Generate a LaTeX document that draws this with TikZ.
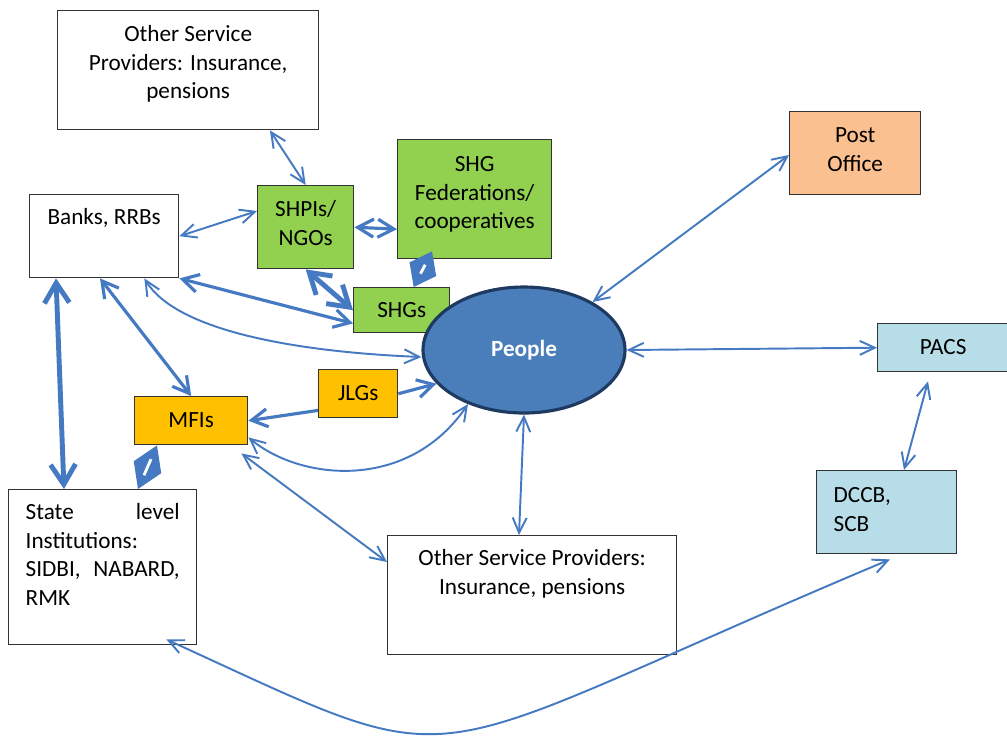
\documentclass[tikz,border=0pt]{standalone}
\usepackage{fontspec}
\setmainfont{Carlito}
\usetikzlibrary{arrows.meta,shapes.geometric,calc}
\definecolor{LinkBlue}{HTML}{4579C2}
\definecolor{GroupGreen}{HTML}{92D050}
\definecolor{PostOrange}{HTML}{FAC08F}
\definecolor{LenderYellow}{HTML}{FFC000}
\definecolor{CoopBlue}{HTML}{B7DEE8}
\definecolor{PeopleBlue}{HTML}{4A7EBB}
\definecolor{PeopleEdge}{HTML}{1F3A60}
\newcommand{\bondlink}[2]{%
  \fill[LinkBlue] (#1) -- ($(#1)!0.5!(#2)!0.3cm!90:(#2)$) -- (#2) -- ($(#1)!0.5!(#2)!0.3cm!-90:(#2)$) -- cycle;
  \draw[white,line width=1.6pt,shorten <=3mm,shorten >=3mm] (#1) -- (#2);}

\begin{document}
\begin{tikzpicture}[
    x=0.02cm,y=-0.02cm,
    font=\fontsize{13.2}{16.2}\selectfont,
    box/.style={draw=black!80,line width=0.8pt,fill=white,anchor=north west,inner xsep=0.1cm,inner ysep=0pt,align=flush center},
    leftbox/.style={box,inner xsep=0.34cm,align=flush left},
    link/.style={draw=LinkBlue,line width=1.1pt,<->,>={Straight Barb[length=3mm,width=2.8mm]}},
    midlink/.style={link,line width=1.8pt,>={Straight Barb[length=3.2mm,width=3.6mm]}},
    heavylink/.style={link,line width=2.8pt,>={Straight Barb[length=4mm,width=5mm]}},
    feed/.style={midlink,->}
  ]
  \useasboundingbox (0,0) rectangle (1007,735);

  \node[box,text width=5.02cm,text height=0.62cm,text depth=1.76cm] (ospTop) at (57,10) {Other Service\\Providers: Insurance,\\pensions};
  \node[box,text width=2.78cm,text height=0.60cm,text depth=1.06cm] (banks) at (29,194) {Banks, RRBs};
  \node[box,fill=GroupGreen,text width=1.72cm,text height=0.62cm,text depth=1.04cm] (shpis) at (257,185) {SHPIs/\\NGOs};
  \node[box,fill=GroupGreen,text width=2.88cm,text height=0.64cm,text depth=1.74cm] (fed) at (397,139) {SHG\\Federations/\\cooperatives};
  \node[box,fill=GroupGreen,text width=1.72cm,text height=0.60cm,text depth=0.30cm] (shgs) at (353,287) {SHGs};
  \node[box,fill=PostOrange,text width=2.42cm,text height=0.62cm,text depth=1.04cm] (post) at (789,111) {Post\\Office};
  \node[box,fill=CoopBlue,text width=2.42cm,text height=0.62cm,text depth=0.34cm] (pacs) at (877,323) {PACS};
  \node[leftbox,fill=CoopBlue,text width=2.12cm,text height=0.64cm,text depth=1.02cm] (dccb) at (816,470) {DCCB,\\SCB};
  \node[box,fill=LenderYellow,text width=1.38cm,text height=0.62cm,text depth=0.34cm] (jlgs) at (318,369) {JLGs};
  \node[box,fill=LenderYellow,text width=2.06cm,text height=0.62cm,text depth=0.34cm] (mfis) at (134,396) {MFIs};
  \node[leftbox,align=justify,text width=3.08cm,text height=0.60cm,text depth=2.50cm] (state) at (8,489) {State level\linebreak Institutions:\\SIDBI, NABARD,\linebreak RMK};
  \node[box,text width=5.58cm,text height=0.60cm,text depth=1.78cm] (ospBot) at (387,535) {Other Service Providers:\\Insurance, pensions};
  \node[ellipse,draw=PeopleEdge,line width=1.8pt,fill=PeopleBlue,text=white,font=\fontsize{13.2}{16.2}\selectfont\bfseries,minimum width=4.04cm,minimum height=2.52cm,inner sep=0pt] (people) at (524,350) {People};

  \coordinate (shgsTop) at ([xshift=0.24cm]shgs.north);
  \coordinate (fedFoot) at ([xshift=0.7cm,yshift=0.16cm]fed.south west);
  \coordinate (mfisFoot) at ([xshift=0.46cm]mfis.south west);
  \coordinate (stateTop) at ([xshift=2.6cm]state.north west);

  \draw[link] ([xshift=4.26cm]ospTop.south west) -- (shpis.north);
  \draw[link] (banks.east) -- ([yshift=-0.52cm]shpis.north west);
  \draw[midlink] (shpis.east) -- ([yshift=-0.6cm]fed.west);
  \draw[heavylink] (shpis.south) -- (shgs.west);
  \bondlink{shgsTop}{fedFoot}
  \draw[midlink] (banks.south east) -- ([yshift=0.2cm]shgs.south west);
  \draw[link] ([xshift=-0.7cm]banks.south east) .. controls +(32,53) and +(-123,-5) .. ([yshift=-0.14cm]people.west);
  \draw[midlink] ([xshift=1.42cm]banks.south west) -- (mfis.north);
  \draw[heavylink] ([xshift=0.54cm]banks.south west) -- ([xshift=1.12cm]state.north west);
  \bondlink{stateTop}{mfisFoot}
  \draw[feed] ([yshift=0.16cm]jlgs.south west) -- (mfis.east);
  \draw[feed] (jlgs.east) -- (people.201);
  \draw[link] ([yshift=0.16cm]mfis.south east) .. controls +(53,44) and +(-59,87) .. (people.224);
  \draw[link] ([xshift=-0.14cm,yshift=-0.16cm]mfis.south east) -- ([yshift=-0.54cm]ospBot.north west);
  \draw[link] (people.south) -- ([xshift=2.64cm]ospBot.north west);
  \draw[link] (people.35) -- ([yshift=-0.88cm]post.north west);
  \draw[link] (people.east) -- (pacs.west);
  \draw[link] ([xshift=1.02cm,yshift=-0.18cm]pacs.south west) -- ([xshift=1.76cm]dccb.north west);
  \draw[link] ([xshift=-0.62cm,yshift=0.12cm]state.south east) .. controls +(315,144) and +(-495,208) .. ([xshift=1.48cm,yshift=-0.1cm]dccb.south west);
\end{tikzpicture}
\end{document}
